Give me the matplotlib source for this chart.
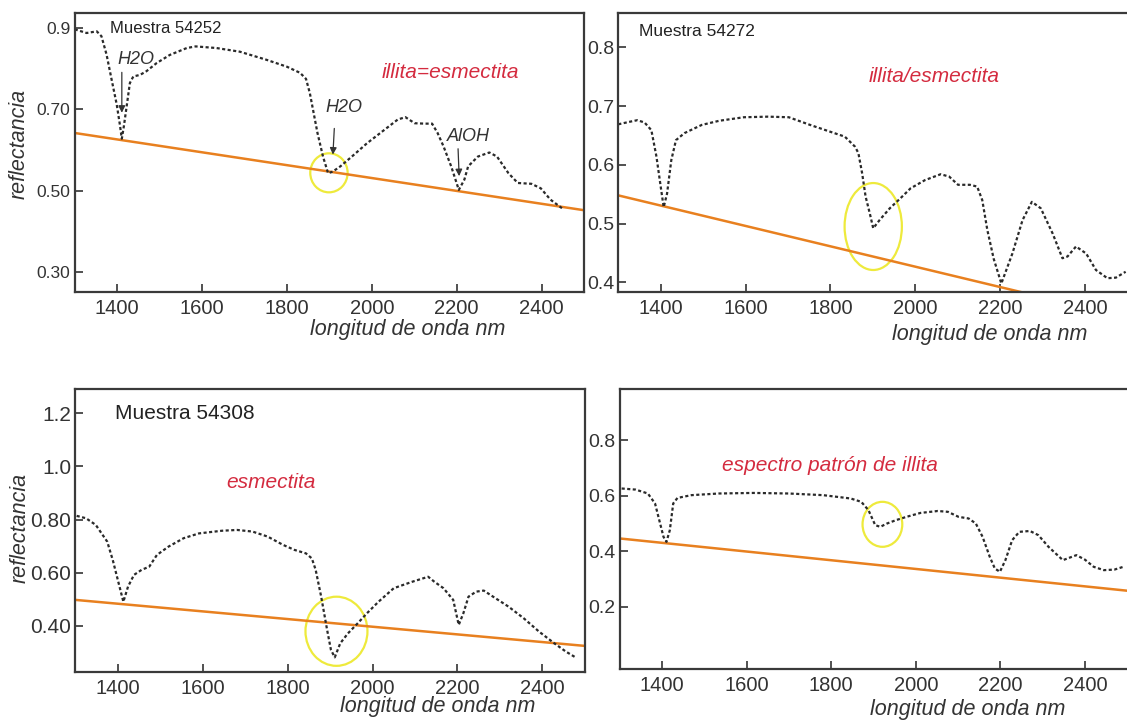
import matplotlib.pyplot as plt
from matplotlib.patches import Ellipse

plt.rcParams['font.family'] = ['Liberation Sans', 'DejaVu Sans']

# --- spectra (wavelength nm, reflectance) ---
wl_54252 = [1300, 1328, 1352, 1363, 1375, 1387, 1399, 1406, 1411, 1416, 1422, 1430, 1438,
            1454, 1469, 1493, 1524, 1564, 1585, 1634, 1689, 1752, 1800, 1831, 1845, 1854,
            1863, 1872, 1885, 1897, 1908, 1926, 1953, 1989, 2025, 2061, 2079, 2101, 2124,
            2142, 2155, 2169, 2187, 2205, 2218, 2227, 2250, 2277, 2295, 2322, 2344, 2376,
            2398, 2421, 2448]
refl_54252 = [0.897, 0.888, 0.892, 0.880, 0.835, 0.773, 0.712, 0.665, 0.628, 0.660, 0.705,
              0.765, 0.781, 0.785, 0.794, 0.814, 0.834, 0.851, 0.855, 0.851, 0.842, 0.822,
              0.805, 0.790, 0.775, 0.740, 0.691, 0.642, 0.584, 0.543, 0.547, 0.560, 0.584,
              0.617, 0.646, 0.675, 0.681, 0.666, 0.665, 0.665, 0.642, 0.609, 0.560, 0.502,
              0.527, 0.560, 0.584, 0.594, 0.584, 0.543, 0.519, 0.517, 0.506, 0.478, 0.457]

wl_54272 = [1300, 1325, 1345, 1362, 1378, 1390, 1400, 1407, 1415, 1425, 1436, 1456, 1497,
            1538, 1596, 1653, 1702, 1752, 1801, 1834, 1858, 1866, 1875, 1883, 1893, 1901,
            1916, 1940, 1965, 1989, 2023, 2060, 2080, 2101, 2129, 2146, 2158, 2170, 2185,
            2203, 2229, 2253, 2275, 2296, 2324, 2347, 2359, 2379, 2403, 2426, 2453, 2473,
            2496]
refl_54272 = [0.669, 0.673, 0.676, 0.672, 0.659, 0.614, 0.563, 0.528, 0.551, 0.608, 0.642,
              0.654, 0.668, 0.675, 0.681, 0.682, 0.681, 0.668, 0.656, 0.648, 0.631, 0.620,
              0.585, 0.546, 0.517, 0.492, 0.506, 0.526, 0.543, 0.560, 0.574, 0.584, 0.580,
              0.566, 0.566, 0.563, 0.540, 0.489, 0.440, 0.398, 0.449, 0.506, 0.537, 0.526,
              0.483, 0.441, 0.444, 0.461, 0.449, 0.421, 0.407, 0.408, 0.418]

wl_54308 = [1303, 1325, 1348, 1375, 1388, 1402, 1413, 1424, 1438, 1456, 1474, 1492, 1519,
            1555, 1591, 1645, 1681, 1717, 1753, 1789, 1816, 1843, 1857, 1866, 1879, 1893,
            1902, 1911, 1924, 1942, 1965, 1987, 2014, 2050, 2095, 2131, 2145, 2167, 2190,
            2203, 2214, 2226, 2244, 2262, 2284, 2320, 2356, 2392, 2428, 2455, 2478]
refl_54308 = [0.814, 0.805, 0.780, 0.717, 0.648, 0.560, 0.491, 0.548, 0.592, 0.611, 0.623,
              0.667, 0.698, 0.730, 0.748, 0.758, 0.761, 0.755, 0.736, 0.705, 0.686, 0.673,
              0.654, 0.611, 0.510, 0.385, 0.310, 0.282, 0.335, 0.372, 0.410, 0.448, 0.491,
              0.542, 0.567, 0.585, 0.567, 0.542, 0.498, 0.404, 0.448, 0.510, 0.529, 0.533,
              0.510, 0.473, 0.429, 0.379, 0.335, 0.304, 0.282]

wl_illita = [1304, 1337, 1366, 1383, 1393, 1403, 1410, 1418, 1426, 1436, 1469, 1534, 1616,
             1699, 1781, 1846, 1871, 1888, 1904, 1916, 1932, 1953, 1978, 2011, 2052, 2076,
             2101, 2125, 2142, 2158, 2175, 2187, 2199, 2212, 2228, 2245, 2270, 2290, 2314,
             2348, 2380, 2400, 2421, 2445, 2470, 2491]
refl_illita = [0.626, 0.622, 0.608, 0.572, 0.512, 0.452, 0.434, 0.476, 0.572, 0.592, 0.602,
               0.608, 0.610, 0.608, 0.602, 0.590, 0.578, 0.548, 0.494, 0.488, 0.500, 0.512,
               0.524, 0.538, 0.545, 0.542, 0.524, 0.518, 0.500, 0.452, 0.380, 0.338, 0.326,
               0.368, 0.440, 0.470, 0.473, 0.458, 0.416, 0.368, 0.386, 0.370, 0.344, 0.332,
               0.334, 0.344]

# continuum (hull) lines: end points
cont_wl = [1300, 2500]
cont_54252 = [0.642, 0.452]
cont_54272 = [0.548, 0.340]
cont_54308 = [0.498, 0.325]
cont_illita = [0.446, 0.258]

# yellow circles around the 1900 nm band: (center wl, center refl, width nm, height)
ring_54252 = (1899, 0.544, 88, 0.096)
ring_54272 = (1901, 0.495, 135, 0.148)
ring_54308 = (1915, 0.380, 146, 0.26)
ring_illita = (1921, 0.497, 94, 0.162)

x_ticks = [1400, 1600, 1800, 2000, 2200, 2400]

SPEC = dict(color='#2a2a2a', lw=1.6, ls=(0, (1.4, 1.1)))
CONT = dict(color='#e8801f', lw=1.8)
RED = '#d42b3f'

fig = plt.figure(figsize=(11.27, 7.2), dpi=100)

panels = [
    # rect, wl, refl, cont, ring, ylim, yticks, yticklabels, ytick size
    ([0.0663, 0.594, 0.4519, 0.3884], wl_54252, refl_54252, cont_54252, ring_54252,
     (0.25, 0.938), [0.3, 0.5, 0.7, 0.9], ['0.30', '0.50', '0.70', '0.9'], 12.5),
    ([0.5486, 0.594, 0.4517, 0.3884], wl_54272, refl_54272, cont_54272, ring_54272,
     (0.383, 0.859), [0.4, 0.5, 0.6, 0.7, 0.8], ['0.4', '0.5', '0.6', '0.7', '0.8'], 14),
    ([0.0669, 0.0671, 0.4520, 0.3926], wl_54308, refl_54308, cont_54308, ring_54308,
     (0.228, 1.291), [0.4, 0.6, 0.8, 1.0, 1.2], ['0.40', '0.60', '0.80', '1.0', '1.2'], 15),
    ([0.5501, 0.0708, 0.4500, 0.3896], wl_illita, refl_illita, cont_illita, ring_illita,
     (-0.024, 0.986), [0.2, 0.4, 0.6, 0.8], ['0.2', '0.4', '0.6', '0.8'], 14),
]

axes = []
for rect, wl, refl, cont, ring, ylim, yt, ytl, ysize in panels:
    ax = fig.add_axes(rect)
    ax.plot(cont_wl, cont, **CONT)
    ax.plot(wl, refl, **SPEC)
    ax.add_patch(Ellipse((ring[0], ring[1]), ring[2], ring[3], fill=False,
                         edgecolor='#eeea3c', lw=1.6))
    ax.set_xlim(1300, 2500)
    ax.set_ylim(*ylim)
    ax.set_xticks(x_ticks)
    ax.set_yticks(yt)
    ax.set_yticklabels(ytl)
    ax.tick_params(axis='x', direction='in', length=6, width=1.2, labelsize=14.5,
                   pad=5, colors='#333333')
    ax.tick_params(axis='y', direction='in', length=6, width=1.2, labelsize=ysize,
                   pad=3, colors='#333333')
    for s in ax.spines.values():
        s.set_color('#3a3a3a')
        s.set_linewidth(1.6)
    axes.append(ax)

ax1, ax2, ax3, ax4 = axes
ax2.spines['right'].set_visible(False)
ax4.spines['right'].set_visible(False)

# axis labels
lab = dict(fontsize=15.5, style='italic', color='#333333')
ax1.set_xlabel('longitud de onda nm', **lab)
ax1.xaxis.set_label_coords(0.654, -0.096)
ax2.set_xlabel('longitud de onda nm', **lab)
ax2.xaxis.set_label_coords(0.73, -0.114)
ax3.set_xlabel('longitud de onda nm', **lab)
ax3.xaxis.set_label_coords(0.712, -0.085)
ax4.set_xlabel('longitud de onda nm', **lab)
ax4.xaxis.set_label_coords(0.686, -0.107)
ax1.set_ylabel('reflectancia', **lab)
ax1.yaxis.set_label_coords(-0.088, 0.53)
ax3.set_ylabel('reflectancia', **lab)
ax3.yaxis.set_label_coords(-0.088, 0.51)

# sample names
ax1.text(0.069, 0.945, 'Muestra 54252', transform=ax1.transAxes, fontsize=12,
         color='#222222', va='center')
ax2.text(0.041, 0.932, 'Muestra 54272', transform=ax2.transAxes, fontsize=12.5,
         color='#222222', va='center')
ax3.text(0.078, 0.912, 'Muestra 54308', transform=ax3.transAxes, fontsize=15,
         color='#222222', va='center')

# mineral names
ax1.text(0.737, 0.786, 'illita=esmectita', transform=ax1.transAxes, fontsize=15,
         style='italic', color=RED, ha='center', va='center')
ax2.text(0.62, 0.77, 'illita/esmectita', transform=ax2.transAxes, fontsize=15,
         style='italic', color=RED, ha='center', va='center')
ax3.text(0.384, 0.671, 'esmectita', transform=ax3.transAxes, fontsize=15,
         style='italic', color=RED, ha='center', va='center')
ax4.text(0.415, 0.727, 'espectro patrón de illita', transform=ax4.transAxes, fontsize=15,
         style='italic', color=RED, ha='center', va='center')

# absorption band labels
arr = dict(arrowstyle='-|>', color='#333333', lw=0.9, mutation_scale=10)
ax1.annotate('', xy=(1411, 0.685), xytext=(1411, 0.798), arrowprops=arr)
ax1.text(1444, 0.822, 'H2O', fontsize=13, style='italic', color='#333333',
         ha='center', va='center')
ax1.annotate('', xy=(1908, 0.582), xytext=(1912, 0.66), arrowprops=arr)
ax1.text(1934, 0.704, 'H2O', fontsize=13, style='italic', color='#333333',
         ha='center', va='center')
ax1.annotate('', xy=(2206, 0.529), xytext=(2203, 0.61), arrowprops=arr)
ax1.text(2228, 0.633, 'AlOH', fontsize=13, style='italic', color='#333333',
         ha='center', va='center')

fig.savefig('out.png', dpi=100)
